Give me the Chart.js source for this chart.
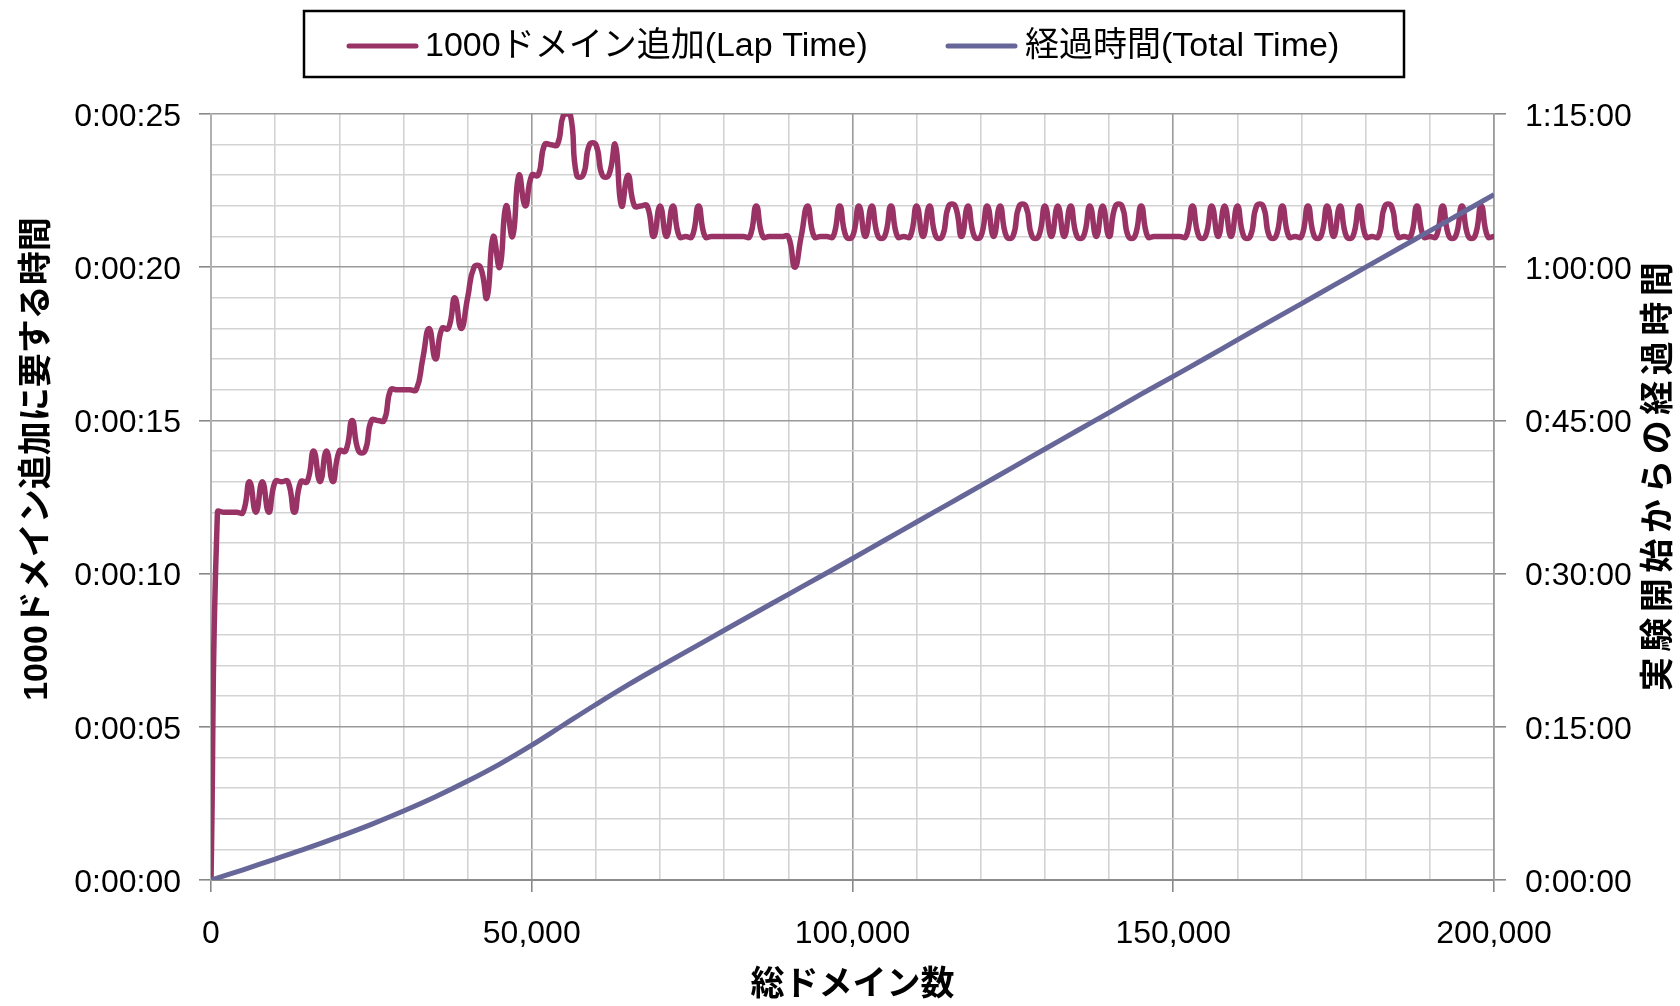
<!DOCTYPE html>
<html lang="ja">
<head>
<meta charset="UTF-8">
<title>ドメイン追加時間</title>
<script src="https://cdn.jsdelivr.net/npm/chart.js"></script>
<style>
    html, body { margin: 0; padding: 0; background: #fff; }
    #wrap { width: 1680px; height: 1006px; }
</style>
</head>
<body>
<div id="wrap"><canvas id="lapChart" width="1680" height="1006"></canvas></div>

<script>
    // x: total domains, one lap point every 1000 domains
    const lapStep = 1000;
    // lap time (seconds) for each 1000 domains
    const lapSeconds = [
        0, 12, 12, 12, 12, 12, 13, 12, 13, 12,
        13, 13, 13, 12, 13, 13, 14, 13, 14, 13,
        14, 14, 15, 14, 14, 15, 15, 15, 16, 16,
        16, 16, 16, 17, 18, 17, 18, 18, 19, 18,
        19, 20, 20, 19, 21, 20, 22, 21, 23, 22,
        23, 23, 24, 24, 24, 25, 25, 23, 23, 24,
        24, 23, 23, 24, 22, 23, 22, 22, 22, 21,
        22, 21, 22, 21, 21, 21, 22, 21, 21, 21,
        21, 21, 21, 21, 21, 22, 21, 21, 21, 21,
        21, 20, 21, 22, 21, 21, 21, 21, 22, 21,
        21, 22, 21, 22, 21, 21, 22, 21, 21, 21,
        22, 21, 22, 21, 21, 22, 22, 21, 22, 21,
        21, 22, 21, 22, 21, 21, 22, 22, 21, 21,
        22, 21, 22, 21, 22, 21, 21, 22, 21, 22,
        21, 22, 22, 21, 21, 22, 21, 21, 21, 21,
        21, 21, 21, 22, 21, 21, 22, 21, 22, 21,
        22, 21, 21, 22, 22, 21, 21, 22, 21, 21,
        21, 22, 21, 21, 22, 21, 22, 21, 21, 22,
        21, 21, 21, 22, 22, 21, 21, 21, 22, 21,
        21, 21, 22, 21, 21, 22, 21, 21, 22, 21,
        21
    ];
    // elapsed time (seconds) every 5000 domains
    const totalStep = 5000;
    const totalSeconds = [
        0, 60, 123, 187, 255, 327, 405, 489, 581, 681,
        792, 912, 1031, 1146, 1255, 1361, 1467, 1573, 1678, 1783,
        1889, 1996, 2103, 2210, 2317, 2424, 2532, 2639, 2746, 2854,
        2959, 3065, 3173, 3280, 3386, 3493, 3600, 3707, 3813, 3920,
        4026
    ];

    const xTickLabels = ['0', '50,000', '100,000', '150,000', '200,000'];
    const leftTickLabels = ['0:00:00', '0:00:05', '0:00:10', '0:00:15', '0:00:20', '0:00:25'];
    const rightTickLabels = ['0:00:00', '0:15:00', '0:30:00', '0:45:00', '1:00:00', '1:15:00'];

    const xTitle = '総ドメイン数';
    const leftTitle = '1000ドメイン追加に要する時間';
    const rightTitle = '実験開始からの経過時間';

    const FONT = "'Liberation Sans', 'Noto Sans CJK JP', sans-serif";
    const MAJOR = '#9a9a9a';
    const MINOR = '#d3d3d3';

    // boxed legend at the top, like the spreadsheet one
    const boxLegend = {
        id: 'boxLegend',
        afterDraw(chart) {
            const ctx = chart.ctx;
            ctx.save();
            ctx.strokeStyle = '#000';
            ctx.lineWidth = 2.5;
            ctx.strokeRect(304, 11, 1100, 66);
            const slots = [{ line: 349, text: 425 }, { line: 948, text: 1025 }];
            ctx.font = '34px ' + FONT;
            ctx.textBaseline = 'middle';
            ctx.textAlign = 'left';
            chart.data.datasets.forEach((ds, i) => {
                const s = slots[i];
                ctx.strokeStyle = ds.borderColor;
                ctx.lineWidth = 5;
                ctx.lineCap = 'round';
                ctx.beginPath();
                ctx.moveTo(s.line, 46);
                ctx.lineTo(s.line + 67, 46);
                ctx.stroke();
                ctx.fillStyle = '#000';
                ctx.fillText(ds.label, s.text, 47);
            });
            ctx.restore();
        }
    };

    // both y titles read bottom-to-top and sit a bit above the middle, as in the original
    const sideTitles = {
        id: 'sideTitles',
        afterDraw(chart) {
            const ctx = chart.ctx;
            const put = (text, x, y, spacing) => {
                ctx.save();
                ctx.translate(x, y);
                ctx.rotate(-Math.PI / 2);
                ctx.font = 'bold 34px ' + FONT;
                if ('letterSpacing' in ctx) ctx.letterSpacing = spacing + 'px';
                ctx.fillStyle = '#000';
                ctx.textAlign = 'center';
                ctx.textBaseline = 'middle';
                ctx.fillText(text, 0, 0);
                ctx.restore();
            };
            put(leftTitle, 38, 459, 0);
            put(rightTitle, 1660, 474, 5.5);
        }
    };

    const ctx = document.getElementById('lapChart').getContext('2d');
    const lapChart = new Chart(ctx, {
        type: 'line',
        data: {
            datasets: [{
                label: '1000ドメイン追加(Lap Time)',
                data: lapSeconds.map((s, i) => ({ x: i * lapStep, y: s })),
                borderColor: '#993366',
                borderWidth: 5.5,
                pointRadius: 0,
                tension: 0.5,
                yAxisID: 'y',
                order: 1
            }, {
                label: '経過時間(Total Time)',
                data: totalSeconds.map((s, i) => ({ x: i * totalStep, y: s })),
                borderColor: '#666699',
                borderWidth: 5,
                pointRadius: 0,
                tension: 0.4,
                yAxisID: 'y2',
                order: 0
            }]
        },
        options: {
            responsive: false,
            animation: false,
            devicePixelRatio: 1,
            events: [],
            layout: { padding: { top: 114, left: 0, right: 0, bottom: 0 } },
            plugins: {
                legend: { display: false },
                tooltip: { enabled: false }
            },
            scales: {
                x: {
                    type: 'linear',
                    min: 0,
                    max: 200000,
                    afterFit: (s) => { s.height = 126; },
                    ticks: {
                        stepSize: 10000,
                        autoSkip: false,
                        maxRotation: 0,
                        padding: 23,
                        color: '#000',
                        font: { family: FONT, size: 32 },
                        callback: (v) => v % 50000 === 0 ? xTickLabels[v / 50000] : ''
                    },
                    grid: {
                        color: (c) => c.tick && c.tick.value % 50000 === 0 ? MAJOR : MINOR,
                        lineWidth: 1.6,
                        tickLength: 12,
                        tickColor: (c) => c.tick && c.tick.value % 50000 === 0 ? '#888' : 'rgba(0,0,0,0)'
                    },
                    border: { color: '#8c8c8c', width: 2 },
                    title: {
                        display: true,
                        text: xTitle,
                        color: '#000',
                        font: { family: FONT, size: 34, weight: 'bold' },
                        padding: { top: 0, bottom: 0 }
                    }
                },
                y: {
                    position: 'left',
                    min: 0,
                    max: 25,
                    afterFit: (s) => { s.width = 211; },
                    ticks: {
                        stepSize: 1,
                        autoSkip: false,
                        padding: 18,
                        labelOffset: 3,
                        color: '#000',
                        font: { family: FONT, size: 32 },
                        callback: (v) => v % 5 === 0 ? leftTickLabels[v / 5] : ''
                    },
                    grid: {
                        color: (c) => c.tick && c.tick.value % 5 === 0 ? MAJOR : MINOR,
                        lineWidth: 1.6,
                        tickLength: 12,
                        tickColor: (c) => c.tick && c.tick.value % 5 === 0 ? '#888' : 'rgba(0,0,0,0)'
                    },
                    border: { color: '#b0b0b0', width: 2 }
                },
                y2: {
                    position: 'right',
                    min: 0,
                    max: 4500,
                    afterFit: (s) => { s.width = 186; },
                    ticks: {
                        stepSize: 900,
                        autoSkip: false,
                        padding: 19,
                        labelOffset: 3,
                        color: '#000',
                        font: { family: FONT, size: 32 },
                        callback: (v) => rightTickLabels[v / 900]
                    },
                    grid: {
                        drawOnChartArea: false,
                        tickLength: 12,
                        tickColor: '#888',
                        lineWidth: 1.6
                    },
                    border: { color: MAJOR, width: 1.6 }
                }
            }
        },
        plugins: [boxLegend, sideTitles]
    });
</script>
</body>
</html>
